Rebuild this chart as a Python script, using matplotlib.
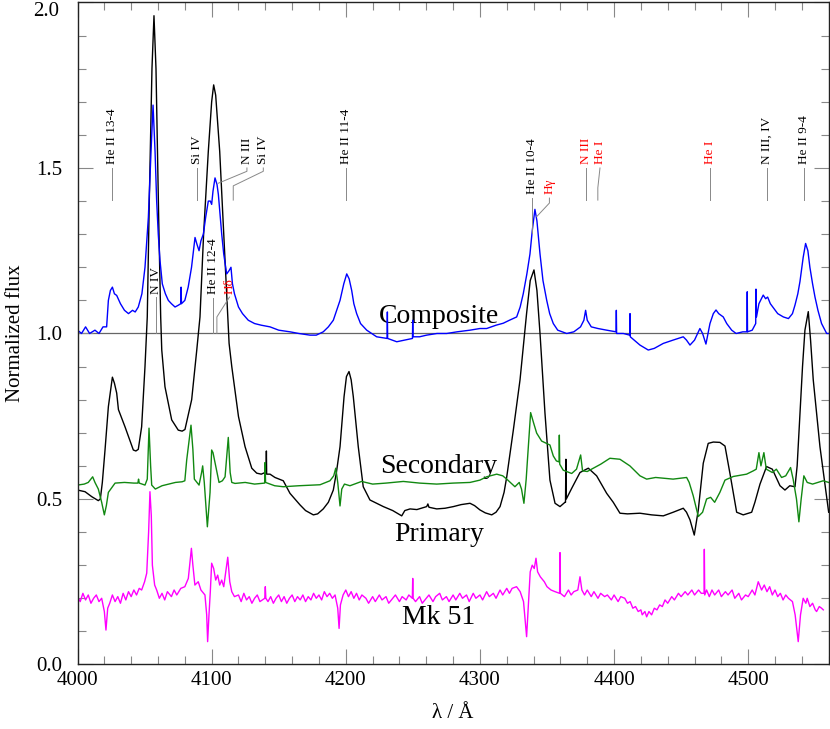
import numpy as np
import matplotlib.pyplot as plt
import matplotlib.transforms as mtransforms
from matplotlib.ticker import MultipleLocator, FixedLocator, FixedFormatter

plt.rcParams['font.family'] = ['Liberation Serif', 'DejaVu Serif']

# ---- spectra (wavelength in A, normalized flux) ----
comp_wave = [4000, 4003, 4006, 4009, 4013, 4016, 4019, 4021.7, 4023, 4024.5, 4026, 4027.5, 4029.2,
             4032, 4035, 4038, 4041, 4043, 4045.3, 4048, 4050.3, 4052.8, 4054.8, 4056.3, 4057.8,
             4059, 4060.2, 4061.5, 4063.2, 4065.5, 4067.7, 4070, 4072.7, 4075, 4077, 4077.2, 4077.5,
             4080, 4082.5, 4085, 4087.6, 4089, 4090.6, 4092, 4093.8, 4095.5, 4097.5, 4099, 4100,
             4101, 4102.5, 4104, 4105, 4106.5, 4107.5, 4109, 4111.2, 4113, 4114.4, 4115.5, 4117,
             4120, 4123, 4127.3, 4132, 4137, 4143.5, 4150, 4158.4, 4165, 4173.3, 4178, 4183.2,
             4187, 4190.7, 4195.7, 4198.5, 4200.7, 4202.5, 4204.4, 4206, 4208.1, 4211, 4215.6,
             4223, 4230.8, 4231, 4231.2, 4238, 4244, 4249.7, 4249.9, 4250.1, 4255, 4260.3, 4268,
             4275.2, 4283, 4292.6, 4300, 4305, 4312, 4317.4, 4322, 4327.4, 4330, 4332.3, 4335,
             4337.3, 4339, 4341, 4342.5, 4344.8, 4347, 4349.8, 4352, 4354.7, 4358, 4364.7, 4370,
             4375, 4377.5, 4378.8, 4380, 4383, 4388, 4394.5, 4401.5, 4401.7, 4401.9, 4406.9,
             4411.7, 4411.9, 4412.1, 4415, 4419.3, 4425.5, 4430, 4436.7, 4444, 4451.6, 4454,
             4456.6, 4460, 4464, 4466, 4468.5, 4471.5, 4474, 4476, 4478, 4481.4, 4484, 4487.7,
             4491, 4496, 4499.1, 4499.3, 4499.5, 4503, 4505.6, 4505.8, 4506.2, 4508, 4511.2, 4513,
             4514.5, 4516.5, 4518.7, 4522, 4526.2, 4530, 4533, 4534.9, 4537, 4538.6, 4541, 4542.8,
             4544.5, 4546, 4548, 4549.8, 4552, 4554.7, 4558.5, 4560]
comp_flux = [1.01, 1.00, 1.02, 1.00, 1.01, 1.00, 1.02, 1.02, 1.10, 1.13, 1.14, 1.12, 1.115,
             1.09, 1.07, 1.06, 1.07, 1.065, 1.08, 1.12, 1.20, 1.35, 1.55, 1.69, 1.55,
             1.40, 1.30, 1.22, 1.15, 1.12, 1.10, 1.09, 1.08, 1.085, 1.09, 1.14, 1.09,
             1.10, 1.14, 1.20, 1.29, 1.27, 1.25, 1.28, 1.30, 1.35, 1.40, 1.40, 1.39,
             1.43, 1.47, 1.45, 1.42, 1.35, 1.30, 1.24, 1.18, 1.19, 1.20, 1.15, 1.12,
             1.08, 1.06, 1.04, 1.03, 1.025, 1.02, 1.01, 1.005, 1.00, 0.995, 0.995, 1.005,
             1.02, 1.04, 1.10, 1.15, 1.18, 1.165, 1.13, 1.09, 1.06, 1.03, 1.01,
             0.99, 0.985, 1.065, 0.985, 0.975, 0.98, 0.985, 1.04, 0.99, 0.99, 0.995, 1.00,
             1.00, 1.005, 1.01, 1.015, 1.015, 1.025, 1.031, 1.04, 1.05, 1.08, 1.12, 1.18,
             1.24, 1.31, 1.375, 1.34, 1.24, 1.16, 1.10, 1.06, 1.03, 1.01, 1.00, 1.005,
             1.02, 1.04, 1.07, 1.04, 1.02, 1.015, 1.01, 1.005, 1.07, 1.00, 1.00,
             0.995, 1.06, 0.99, 0.98, 0.965, 0.95, 0.955, 0.97, 0.98, 0.99, 0.98,
             0.965, 0.98, 1.015, 1.00, 0.968, 1.03, 1.06, 1.071, 1.06, 1.05, 1.03, 1.01,
             1.00, 1.005, 1.005, 1.126, 1.005, 1.01, 1.03, 1.134, 1.05, 1.09, 1.116, 1.105,
             1.11, 1.09, 1.078, 1.06, 1.05, 1.045, 1.06, 1.086, 1.12, 1.157, 1.23, 1.272,
             1.25, 1.20, 1.15, 1.11, 1.07, 1.03, 1.00, 1.00]

prim_wave = [4000, 4005.6, 4010.6, 4015.5, 4017, 4018.5, 4020.5, 4023, 4026, 4027.5, 4029.2, 4030.5,
             4035.4, 4041.6, 4043.5, 4045.3, 4047.8, 4050.3, 4052, 4053.5, 4055.5, 4057, 4058.5,
             4060.5, 4062, 4062.8, 4065.2, 4070.2, 4075.1, 4078, 4080.1, 4085.1, 4088.9, 4091.3,
             4094, 4097.5, 4100, 4101.5, 4103, 4106, 4109, 4112, 4113, 4115, 4120, 4124.9, 4129.9,
             4133.6, 4137, 4139.8, 4140.6, 4140.8, 4141.0, 4143.5, 4147.2, 4153.4, 4158.4, 4165.9,
             4170, 4175.8, 4179, 4183.2, 4187, 4190.7, 4193, 4195.7, 4198.7, 4200.5, 4202.4, 4204,
             4205.6, 4209.3, 4213, 4218, 4228, 4235, 4241.7, 4244, 4247.9, 4253, 4260.3, 4261.2,
             4262, 4267.8, 4274, 4280.2, 4286, 4292.6, 4296, 4300, 4304, 4308.8, 4312, 4315, 4318,
             4320, 4324.9, 4329.9, 4334.8, 4337.5, 4340.3, 4342.5, 4344.8, 4348.5, 4352.2, 4356,
             4359.7, 4363.4, 4363.8, 4364.1, 4364.4, 4368.4, 4374.6, 4380.8, 4387, 4394.5, 4399.4,
             4404.4, 4410, 4419.3, 4428, 4436.7, 4444.1, 4451.6, 4454, 4456.6, 4459.8, 4462.8,
             4466.5, 4470.2, 4474, 4478.9, 4482.7, 4486.4, 4491.4, 4496.3, 4502.6, 4505, 4508.8,
             4513.7, 4518, 4523.7, 4527.4, 4531, 4534.9, 4536.5, 4538.6, 4540.5, 4542.3, 4544.8,
             4546.5, 4548.5, 4553.5, 4559.7, 4560]
prim_flux = [0.527, 0.522, 0.507, 0.495, 0.50, 0.55, 0.648, 0.779, 0.868, 0.85, 0.82, 0.77,
             0.718, 0.648, 0.645, 0.65, 0.718, 0.90, 1.05, 1.40, 1.80, 1.96, 1.80,
             1.35, 1.05, 0.95, 0.839, 0.739, 0.708, 0.705, 0.71, 0.80, 0.95, 1.05,
             1.30, 1.55, 1.70, 1.751, 1.72, 1.55, 1.30, 1.05, 0.97, 0.90, 0.749, 0.658, 0.593,
             0.578, 0.575, 0.58, 0.58, 0.645, 0.575, 0.575, 0.565, 0.555, 0.517, 0.482,
             0.465, 0.452, 0.455, 0.47, 0.49, 0.527, 0.58, 0.658, 0.809, 0.87, 0.885, 0.86,
             0.809, 0.658, 0.537, 0.497, 0.477, 0.465, 0.449, 0.465, 0.47, 0.468, 0.477, 0.485,
             0.475, 0.47, 0.472, 0.477, 0.483, 0.487, 0.48, 0.467, 0.458, 0.452, 0.46, 0.477, 0.52,
             0.567, 0.708, 0.86, 1.061, 1.16, 1.192, 1.13, 1.00, 0.759, 0.557, 0.487,
             0.477, 0.49, 0.49, 0.62, 0.50, 0.532, 0.58, 0.593, 0.57, 0.517, 0.49,
             0.457, 0.455, 0.457, 0.452, 0.449, 0.46, 0.472, 0.46, 0.437, 0.391, 0.467,
             0.608, 0.668, 0.672, 0.671, 0.66, 0.577, 0.46, 0.452, 0.46, 0.49, 0.545,
             0.598, 0.59, 0.54, 0.527, 0.54, 0.537, 0.60, 0.759, 0.90, 1.01, 1.066,
             0.98, 0.86, 0.658, 0.467, 0.46]

sec_wave = [4000, 4005, 4008, 4011.3, 4013, 4015.5, 4018, 4020, 4021.5, 4023, 4028, 4035, 4042,
            4045, 4045.5, 4046, 4050.3, 4052, 4053.3, 4054.5, 4055.3, 4058, 4063, 4068, 4073, 4078,
            4080, 4081.4, 4084.6, 4086, 4087.1, 4090.6, 4092.5, 4093.3, 4094.5, 4096, 4096.8, 4098,
            4098.8, 4100, 4101, 4102.5, 4105.5, 4108, 4110, 4112.4, 4113.8, 4115, 4117.4, 4125,
            4132, 4139.5, 4139.8, 4140.2, 4147, 4153.4, 4165, 4175, 4180.8, 4188.2, 4191, 4192.5,
            4194, 4195.7, 4197, 4199, 4203.1, 4211.8, 4220, 4230, 4242.9, 4255, 4267.8, 4280,
            4292.6, 4300, 4305, 4312.5, 4317, 4320, 4324, 4326.1, 4329.3, 4331, 4332.8, 4334.5,
            4335.3, 4337.8, 4340, 4342.3, 4346, 4352.2, 4354.7, 4357, 4359, 4359.2, 4359.5, 4362.1,
            4368.4, 4372, 4375.1, 4376.5, 4380, 4384.5, 4390, 4396.9, 4404.4, 4411.8, 4419.3,
            4424.3, 4431, 4444, 4454.1, 4456, 4459, 4462.8, 4466, 4469, 4472, 4475, 4478.9, 4482.7,
            4488.9, 4498.8, 4503.8, 4506, 4508, 4509.5, 4511.7, 4513.5, 4518, 4521, 4524.9, 4528,
            4531.6, 4533.5, 4536, 4537.8, 4539.5, 4541.5, 4544, 4548, 4552, 4555.9, 4560]
sec_flux = [0.542, 0.545, 0.55, 0.567, 0.55, 0.53, 0.49, 0.452, 0.48, 0.52, 0.548, 0.55, 0.548,
            0.548, 0.56, 0.548, 0.542, 0.56, 0.714, 0.60, 0.542, 0.53, 0.54, 0.545, 0.55, 0.552,
            0.555, 0.618, 0.723, 0.65, 0.56, 0.542, 0.58, 0.60, 0.55, 0.46, 0.416, 0.48,
            0.52, 0.648, 0.64, 0.61, 0.55, 0.555, 0.567, 0.686, 0.58, 0.55, 0.547, 0.55,
            0.545, 0.548, 0.61, 0.55, 0.54, 0.537, 0.54, 0.542, 0.543, 0.555, 0.57, 0.593,
            0.55, 0.479, 0.53, 0.545, 0.54, 0.553, 0.545, 0.548, 0.553, 0.548, 0.545, 0.548,
            0.55, 0.557, 0.567, 0.575, 0.57, 0.56, 0.545, 0.537, 0.55, 0.53, 0.487, 0.56,
            0.61, 0.761, 0.73, 0.699, 0.675, 0.663, 0.63, 0.615, 0.612, 0.693, 0.605, 0.587,
            0.577, 0.59, 0.633, 0.585, 0.583, 0.593, 0.605, 0.623, 0.62, 0.60, 0.57,
            0.56, 0.565, 0.56, 0.565, 0.55, 0.51, 0.447, 0.46, 0.50, 0.505, 0.49, 0.52, 0.557,
            0.568, 0.575, 0.585, 0.59, 0.64, 0.60, 0.64, 0.59, 0.58, 0.59, 0.565, 0.57,
            0.595, 0.56, 0.50, 0.431, 0.50, 0.57, 0.55, 0.545, 0.55, 0.555, 0.55]

mk51_wave = [4000, 4002, 4004, 4006, 4008, 4010, 4012, 4014, 4016, 4018, 4020, 4021.2, 4022.5, 4024,
             4026, 4028, 4030, 4032, 4034, 4036, 4038, 4040, 4042, 4044, 4046, 4047.8, 4050, 4051.6,
             4053, 4054, 4055, 4055.8, 4057.5, 4059, 4061, 4063, 4065, 4067, 4070, 4072, 4074, 4077,
             4080, 4082.6, 4084.9, 4086, 4087.5, 4090, 4092, 4095, 4096.3, 4097, 4098, 4099, 4100,
             4101.5, 4103, 4104.5, 4106, 4107.5, 4109, 4112, 4113.5, 4115, 4117, 4120, 4122, 4124,
             4126, 4128, 4130, 4132, 4134, 4136, 4139.6, 4140, 4140.4, 4142, 4144, 4146, 4148, 4150,
             4152, 4154, 4156, 4158, 4160, 4162, 4164, 4166, 4168, 4170, 4172, 4174, 4176, 4178,
             4180, 4182, 4184, 4186, 4188, 4190, 4192, 4194, 4195, 4196, 4198, 4200, 4202, 4204,
             4206, 4208, 4210, 4212, 4215, 4217, 4220, 4222, 4225, 4227, 4230, 4232, 4235, 4237,
             4240, 4242, 4245, 4247, 4249.6, 4249.9, 4250.2, 4252, 4255, 4257, 4260, 4262, 4265,
             4267, 4270, 4272, 4275, 4277, 4280, 4282, 4285, 4287, 4290, 4292, 4295, 4297, 4300,
             4302, 4305, 4307, 4310, 4312, 4315, 4317, 4320, 4322, 4324, 4327.3, 4330, 4332.5,
             4334.8, 4336, 4337.5, 4339, 4340.5, 4341.8, 4343, 4345, 4348, 4350, 4353, 4356, 4359.4,
             4359.7, 4360.0, 4363, 4366, 4368, 4370, 4373, 4374.6, 4376, 4378, 4380, 4383, 4385,
             4388, 4390, 4393, 4395, 4398, 4400, 4403, 4405, 4408, 4410, 4412, 4414, 4416, 4418,
             4420, 4421, 4423, 4424.3, 4426, 4428, 4430, 4432, 4434, 4436, 4438, 4440, 4443, 4445,
             4448, 4450, 4453, 4455, 4458, 4460, 4463, 4465, 4467.1, 4467.3, 4467.6, 4469, 4471,
             4473, 4475, 4478, 4480, 4483, 4485, 4488, 4490, 4493, 4495, 4498, 4500, 4503, 4505,
             4507.5, 4510, 4512, 4514, 4516, 4518, 4520, 4522, 4524, 4526, 4528, 4530, 4533, 4535,
             4537.3, 4539, 4541, 4543, 4544, 4546, 4548, 4550, 4551, 4553, 4554.7, 4556]
mk51_flux = [0.205, 0.19, 0.215, 0.195, 0.21, 0.185, 0.20, 0.21, 0.19, 0.20, 0.16, 0.104, 0.17, 0.185,
             0.21, 0.19, 0.205, 0.185, 0.215, 0.195, 0.22, 0.205, 0.225, 0.21, 0.23, 0.225, 0.25, 0.276,
             0.40, 0.522, 0.45, 0.30, 0.24, 0.225, 0.20, 0.215, 0.195, 0.22, 0.205, 0.225, 0.21, 0.23,
             0.235, 0.26, 0.351, 0.30, 0.24, 0.25, 0.225, 0.21, 0.15, 0.069, 0.15, 0.22, 0.306,
             0.29, 0.255, 0.27, 0.24, 0.255, 0.235, 0.324, 0.25, 0.22, 0.205, 0.21, 0.19, 0.215,
             0.195, 0.205, 0.185, 0.20, 0.21, 0.19, 0.20, 0.235, 0.20, 0.19, 0.205, 0.185, 0.20, 0.21,
             0.19, 0.205, 0.185, 0.20, 0.21, 0.19, 0.205, 0.195, 0.21, 0.19, 0.205, 0.195, 0.215, 0.20,
             0.21, 0.195, 0.22, 0.205, 0.215, 0.20, 0.21, 0.17, 0.109, 0.18, 0.21, 0.225, 0.205, 0.22,
             0.20, 0.215, 0.195, 0.21, 0.20, 0.185, 0.205, 0.19, 0.21, 0.195, 0.205, 0.185, 0.20, 0.21,
             0.19, 0.205, 0.195, 0.21, 0.20, 0.26, 0.20, 0.19, 0.205, 0.185, 0.20, 0.21, 0.19,
             0.205, 0.215, 0.195, 0.205, 0.19, 0.21, 0.195, 0.215, 0.20, 0.21, 0.19, 0.215, 0.20, 0.21,
             0.195, 0.22, 0.205, 0.215, 0.20, 0.225, 0.21, 0.23, 0.215, 0.23, 0.235, 0.22, 0.19,
             0.084, 0.17, 0.28, 0.30, 0.29, 0.321, 0.28, 0.265, 0.25, 0.235, 0.225, 0.22, 0.215,
             0.338, 0.215, 0.205, 0.225, 0.21, 0.22, 0.225, 0.265, 0.225, 0.21, 0.225, 0.205, 0.22,
             0.20, 0.215, 0.205, 0.21, 0.195, 0.21, 0.19, 0.205, 0.20, 0.185, 0.19, 0.17, 0.175, 0.16,
             0.165, 0.15, 0.16, 0.144, 0.16, 0.15, 0.17, 0.165, 0.18, 0.175, 0.195, 0.185, 0.205, 0.195,
             0.215, 0.205, 0.22, 0.21, 0.225, 0.21, 0.225, 0.215, 0.215, 0.348, 0.21, 0.225, 0.205,
             0.225, 0.21, 0.225, 0.205, 0.22, 0.21, 0.225, 0.20, 0.215, 0.195, 0.21, 0.205, 0.225, 0.21,
             0.25, 0.225, 0.24, 0.22, 0.235, 0.21, 0.225, 0.205, 0.215, 0.195, 0.21, 0.20, 0.19, 0.15,
             0.069, 0.15, 0.20, 0.185, 0.20, 0.175, 0.185, 0.165, 0.16, 0.175, 0.17, 0.165]

# line identifications with a straight marker above the spectra
top_names = ["He II 13-4", "Si IV", "He II 11-4", "N III", "He I", "N III, IV", "He II 9-4"]
top_waves = [4026.0, 4088.9, 4200.0, 4379.0, 4471.5, 4513.8, 4541.6]
top_cols = ["k", "k", "k", "r", "r", "k", "k"]

fig = plt.figure(figsize=(8.3, 7.29), dpi=100)
ax = fig.add_axes([0.0934, 0.0885, 0.905, 0.9081])

ax.axhline(1.0, color="#666666", lw=0.9, zorder=1)
ax.plot(mk51_wave, mk51_flux, color="#ff00ff", lw=1.0, zorder=2)
ax.plot(prim_wave, prim_flux, color="k", lw=1.0, zorder=2)
ax.plot(sec_wave, sec_flux, color="#118811", lw=1.0, zorder=2)
ax.plot(comp_wave, comp_flux, color="#0000ff", lw=1.0, zorder=2)

lc = "#888888"
fs = 9.5
for name, w, c in zip(top_names, top_waves, top_cols):
    ax.plot([w, w], [1.403, 1.50], color=lc, lw=0.7)
    ax.text(w, 1.512, name, rotation=90, ha="center", va="bottom", fontsize=fs, color=c)

# labels with bent leaders
ax.plot([4126.3, 4126.3, 4105.0], [1.50, 1.49, 1.454], color=lc, lw=0.7)
ax.text(4126.3, 1.512, "N III", rotation=90, ha="center", va="bottom", fontsize=fs, color="k")
ax.plot([4138.5, 4138.5, 4116.1, 4116.1], [1.50, 1.49, 1.446, 1.403], color=lc, lw=0.7)
ax.text(4138.5, 1.512, "Si IV", rotation=90, ha="center", va="bottom", fontsize=fs, color="k")
ax.plot([4389.5, 4387.9, 4387.9], [1.50, 1.44, 1.403], color=lc, lw=0.7)
ax.text(4389.5, 1.512, "He I", rotation=90, ha="center", va="bottom", fontsize=fs, color="r")

ax.plot([4338.7, 4338.7], [1.304, 1.409], color=lc, lw=0.7)
ax.text(4338.7, 1.422, "He II 10-4", rotation=90, ha="center", va="bottom", fontsize=fs, color="k")
ax.plot([4351.8, 4351.8, 4342.3], [1.409, 1.394, 1.353], color=lc, lw=0.7)
ax.text(4351.8, 1.422, "H\u03b3", rotation=90, ha="center", va="bottom", fontsize=fs, color="r")

ax.plot([4058.3, 4058.3], [1.0, 1.11], color=lc, lw=0.7)
ax.text(4058.8, 1.12, "N IV", rotation=90, ha="center", va="bottom", fontsize=fs, color="k")
ax.plot([4100.8, 4100.8], [1.0, 1.107], color=lc, lw=0.7)
ax.text(4100.8, 1.12, "He II 12-4", rotation=90, ha="center", va="bottom", fontsize=fs, color="k")
ax.plot([4113.3, 4103.9, 4103.9], [1.11, 1.05, 1.0], color=lc, lw=0.7)
ax.text(4113.3, 1.12, "H\u03b4", rotation=90, ha="center", va="bottom", fontsize=fs, color="r")

# spectrum names
for name, y in [("Composite", 1.031), ("Secondary", 0.578), ("Primary", 0.373), ("Mk 51", 0.121)]:
    ax.text(4269.5, y, name, ha="center", va="baseline", fontsize=20, zorder=1)

ax.set_xlim(4000, 4560)
ax.set_ylim(0, 2.0)
ax.xaxis.set_major_locator(MultipleLocator(100))
ax.xaxis.set_minor_locator(MultipleLocator(20))
ax.yaxis.set_major_locator(FixedLocator([0.0, 0.5, 1.0, 1.5, 2.0]))
ax.yaxis.set_major_formatter(FixedFormatter(["0.0", "0.5", "1.0", "1.5", ""]))
ax.yaxis.set_minor_locator(MultipleLocator(0.1))
ax.tick_params(which="both", direction="in", top=True, right=True, color="#888888", width=0.8)
ax.tick_params(which="major", length=10.5)
ax.tick_params(which="minor", length=5.5)
ax.tick_params(axis="x", which="major", labelsize=15, pad=5)
ax.tick_params(axis="y", which="major", labelsize=15, pad=11)
for s in ax.spines.values():
    s.set_linewidth(1.0)
    s.set_color("#222222")

# top y label sits just inside the figure, below the frame corner
trans = mtransforms.blended_transform_factory(ax.transAxes, ax.transData)
ax.text(-0.0245, 2.0, "2.0", transform=trans, ha="right", va="top", fontsize=15)

ax.set_xlabel("\u03bb / \u00c5", fontsize=15, labelpad=10)
ax.set_ylabel("Normalized flux", fontsize=15, labelpad=8)

fig.savefig("out.png", dpi=100)
